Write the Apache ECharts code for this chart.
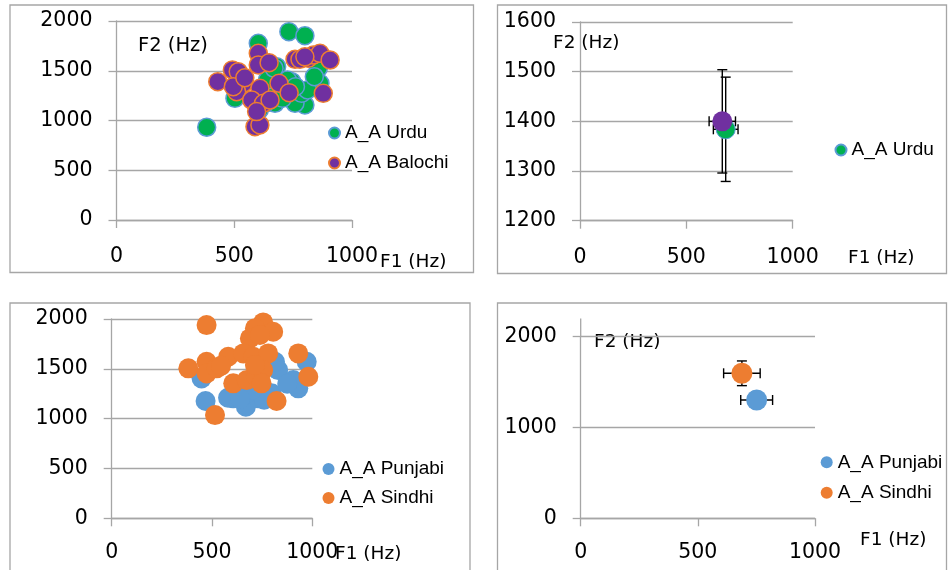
<!DOCTYPE html>
<html>
<head>
<meta charset="utf-8">
<script src="https://cdn.jsdelivr.net/npm/echarts@6/dist/echarts.min.js"></script>
<style>
html,body{margin:0;padding:0;background:#fff;}
#chart{width:948px;height:570px;}
</style>
</head>
<body>
<div id="chart"></div>
<script>
// ---- Data ----
const seriesNames = ['A_A Urdu', 'A_A Balochi', 'A_A Punjabi', 'A_A Sindhi'];

// Panel 1: individual tokens, Urdu vs Balochi
const urduF1 = [732, 800, 602, 383, 857, 864, 800, 758, 744, 680, 638, 517, 503, 673, 631, 786, 602, 705, 726, 641, 811, 840, 606, 669, 760];
const urduF2 = [1893, 1852, 1776, 932, 1525, 1374, 1156, 1173, 1390, 1541, 1357, 1273, 1223, 1173, 1173, 1273, 1139, 1223, 1407, 1407, 1307, 1440, 1106, 1525, 1340];
const balochiF1 = [430, 492, 517, 539, 510, 602, 602, 648, 609, 574, 624, 652, 690, 733, 588, 609, 595, 758, 779, 814, 836, 864, 907, 878, 800, 496, 545];
const balochiF2 = [1390, 1508, 1490, 1374, 1290, 1675, 1558, 1581, 1323, 1206, 1173, 1206, 1374, 1280, 938, 955, 1090, 1615, 1615, 1625, 1658, 1675, 1608, 1273, 1640, 1340, 1430];

// Panel 2: means with standard deviations
const meanUrdu = [685, 1384];
const sdUrdu = [58, 105];
const meanBalochi = [669, 1400];
const sdBalochi = [62, 104];

// Panel 3: individual tokens, Punjabi vs Sindhi
const punjabiF1 = [448, 468, 606, 669, 731, 797, 830, 814, 905, 930, 1013, 972, 875, 670, 580, 760, 700, 640];
const punjabiF2 = [1404, 1177, 1204, 1119, 1204, 1254, 1487, 1571, 1387, 1304, 1487, 1571, 1350, 1250, 1210, 1190, 1290, 1200];
const sindhiF1 = [473, 755, 714, 805, 689, 739, 382, 473, 473, 523, 581, 656, 706, 780, 930, 606, 673, 722, 755, 747, 714, 980, 822, 515, 545];
const sindhiF2 = [1939, 1966, 1906, 1872, 1805, 1839, 1505, 1571, 1454, 1505, 1621, 1655, 1621, 1655, 1655, 1354, 1387, 1420, 1487, 1354, 1538, 1420, 1177, 1036, 1530];

// Panel 4: means with standard deviations
const meanPunjabi = [751, 1303];
const sdPunjabi = [68, 90];
const meanSindhi = [688, 1597];
const sdSindhi = [78, 136];

// Axis ticks
const xTicks = [0, 500, 1000];
const yTicks1 = [0, 500, 1000, 1500, 2000];
const yTicks2 = [1200, 1300, 1400, 1500, 1600];
const yTicks4 = [0, 1000, 2000];
const yMax4 = 2200; // the vertical axis line of panel 4 runs up to here

// ---- Styles ----
const C = {
  green: '#00B050', purple: '#7030A0', blue: '#5B9BD5', orange: '#ED7D31',
  grid: '#A6A6A6', frame: '#A6A6A6', text: '#000'
};
const plain = v => String(v);
const tickFont = {fontFamily: 'DejaVu Sans', fontSize: 20.5, color: C.text, formatter: plain};
const nameFont = 'DejaVu Sans';
const legFont = {fontFamily: 'Liberation Sans', fontSize: 19, color: C.text};

function pairs(a, b) { return a.map((v, i) => [v, b[i]]); }

function xAxis(gi, labelMargin) {
  return {
    type: 'value', gridIndex: gi, min: xTicks[0], max: xTicks[xTicks.length - 1], interval: xTicks[1] - xTicks[0],
    axisLine: {show: true, onZero: false, lineStyle: {color: C.grid, width: 1.3}},
    axisTick: {show: true, inside: false, length: 8, lineStyle: {color: C.grid, width: 1.3}},
    axisLabel: Object.assign({margin: labelMargin}, tickFont),
    splitLine: {show: false}
  };
}
function yAxis(gi, ticks) {
  return {
    type: 'value', gridIndex: gi, min: ticks[0], max: ticks[ticks.length - 1], interval: ticks[1] - ticks[0],
    axisLine: {show: true, lineStyle: {color: C.grid, width: 1.3}},
    axisTick: {show: true, inside: false, length: 8, lineStyle: {color: C.grid, width: 1.3}},
    axisLabel: Object.assign({margin: 24}, tickFont),
    splitLine: {show: true, lineStyle: {color: C.grid, width: 1.3}}
  };
}

function errRender(params, api) {
  const x = api.value(0), y = api.value(1), ex = api.value(2), ey = api.value(3);
  const l = api.coord([x - ex, y]), r = api.coord([x + ex, y]);
  const t = api.coord([x, y + ey]), b = api.coord([x, y - ey]);
  const cap = 5;
  const st = {stroke: '#000', lineWidth: 1.4};
  return {
    type: 'group',
    children: [
      {type: 'line', shape: {x1: l[0], y1: l[1], x2: r[0], y2: r[1]}, style: st},
      {type: 'line', shape: {x1: l[0], y1: l[1] - cap, x2: l[0], y2: l[1] + cap}, style: st},
      {type: 'line', shape: {x1: r[0], y1: r[1] - cap, x2: r[0], y2: r[1] + cap}, style: st},
      {type: 'line', shape: {x1: t[0], y1: t[1], x2: b[0], y2: b[1]}, style: st},
      {type: 'line', shape: {x1: t[0] - cap, y1: t[1], x2: t[0] + cap, y2: t[1]}, style: st},
      {type: 'line', shape: {x1: b[0] - cap, y1: b[1], x2: b[0] + cap, y2: b[1]}, style: st}
    ]
  };
}
function errSeries(gi, mean, sd) {
  return {
    type: 'custom', xAxisIndex: gi, yAxisIndex: gi, z: 1, silent: true,
    renderItem: errRender, data: [[mean[0], mean[1], sd[0], sd[1]]]
  };
}
// Extension of panel 4's vertical axis line above its last tick (Excel axis runs to yMax4)
function axisStubSeries(gi, from, to) {
  return {
    type: 'custom', xAxisIndex: gi, yAxisIndex: gi, z: 0, silent: true, clip: false,
    renderItem: function (params, api) {
      const a = api.coord([api.value(0), api.value(1)]), b = api.coord([api.value(0), api.value(2)]);
      return {type: 'line', shape: {x1: a[0], y1: a[1], x2: b[0], y2: b[1]},
        style: {stroke: C.grid, lineWidth: 1.3}};
    },
    data: [[xTicks[0], from, to]]
  };
}

function frame(x, y, w, h) {
  return {type: 'rect', shape: {x: x, y: y, width: w, height: h}, style: {fill: 'none', stroke: C.frame, lineWidth: 1.3}, silent: true, z: -10};
}
function label(text, x, y, size) {
  return {type: 'text', x: x, y: y, style: {text: text, fontFamily: nameFont, fontSize: size, fill: C.text, verticalAlign: 'middle', align: 'left'}, silent: true};
}
function legend(names, left, top, icon, gap) {
  return {data: names, orient: 'vertical', left: left, top: top, padding: 0, itemWidth: icon, itemHeight: icon,
    itemGap: gap, icon: 'circle', textStyle: legFont, selectedMode: false};
}

const chart = echarts.init(document.getElementById('chart'), null, {renderer: 'canvas'});
const option = {
  animation: false,
  backgroundColor: '#fff',
  grid: [
    {left: 116.5, top: 21, width: 235.5, height: 199},
    {left: 580, top: 22, width: 212.7, height: 198.7},
    {left: 111.7, top: 319, width: 200.6, height: 199.3},
    {left: 580.7, top: 336.7, width: 234.3, height: 181.6}
  ],
  xAxis: [xAxis(0, 26), xAxis(1, 26), xAxis(2, 24), xAxis(3, 24)],
  yAxis: [yAxis(0, yTicks1), yAxis(1, yTicks2), yAxis(2, yTicks1), yAxis(3, yTicks4)],
  legend: [
    legend([seriesNames[0], seriesNames[1]], 328, 123.5, 11, 11),
    legend([seriesNames[0]], 834.5, 140.5, 11, 11),
    legend([seriesNames[2], seriesNames[3]], 322.5, 459.5, 12, 10),
    legend([seriesNames[2], seriesNames[3]], 820.7, 452.8, 12, 11.4)
  ],
  series: [
    // Panel 1
    {name: seriesNames[0], type: 'scatter', xAxisIndex: 0, yAxisIndex: 0, symbolSize: 18, z: 2,
      itemStyle: {color: C.green, borderColor: C.blue, borderWidth: 1.5, opacity: 1}, data: pairs(urduF1, urduF2)},
    {name: seriesNames[1], type: 'scatter', xAxisIndex: 0, yAxisIndex: 0, symbolSize: 18, z: 3,
      itemStyle: {color: C.purple, borderColor: C.orange, borderWidth: 1.5, opacity: 1}, data: pairs(balochiF1, balochiF2)},
    // Panel 2
    errSeries(1, meanUrdu, sdUrdu),
    errSeries(1, meanBalochi, sdBalochi),
    {name: seriesNames[0], type: 'scatter', xAxisIndex: 1, yAxisIndex: 1, symbolSize: 19, z: 2,
      itemStyle: {color: C.green, borderColor: C.blue, borderWidth: 1, opacity: 1}, data: [meanUrdu]},
    {name: seriesNames[1], type: 'scatter', xAxisIndex: 1, yAxisIndex: 1, symbolSize: 20, z: 3,
      itemStyle: {color: C.purple, opacity: 1}, data: [meanBalochi]},
    // Panel 3
    {name: seriesNames[2], type: 'scatter', xAxisIndex: 2, yAxisIndex: 2, symbolSize: 20, z: 2,
      itemStyle: {color: C.blue, opacity: 1}, data: pairs(punjabiF1, punjabiF2)},
    {name: seriesNames[3], type: 'scatter', xAxisIndex: 2, yAxisIndex: 2, symbolSize: 20, z: 3,
      itemStyle: {color: C.orange, opacity: 1}, data: pairs(sindhiF1, sindhiF2)},
    // Panel 4
    axisStubSeries(3, yTicks4[yTicks4.length - 1], yMax4),
    errSeries(3, meanPunjabi, sdPunjabi),
    errSeries(3, meanSindhi, sdSindhi),
    {name: seriesNames[2], type: 'scatter', xAxisIndex: 3, yAxisIndex: 3, symbolSize: 21, z: 2,
      itemStyle: {color: C.blue, opacity: 1}, data: [meanPunjabi]},
    {name: seriesNames[3], type: 'scatter', xAxisIndex: 3, yAxisIndex: 3, symbolSize: 21, z: 3,
      itemStyle: {color: C.orange, opacity: 1}, data: [meanSindhi]}
  ],
  graphic: [
    frame(10, 5, 463.5, 267.5),
    frame(497.5, 5, 449, 268.5),
    frame(10, 303, 460, 300),
    frame(497.5, 303, 449, 300),
    label('F2 (Hz)', 138, 45.5, 19.5),
    label('F1 (Hz)', 380, 262, 18.5),
    label('F2 (Hz)', 553, 43, 18.5),
    label('F1 (Hz)', 848, 258, 18.5),
    label('F1 (Hz)', 335, 554, 18.5),
    label('F2 (Hz)', 594, 342, 18.5),
    label('F1 (Hz)', 860, 540, 18.5)
  ]
};
chart.setOption(option);
</script>
</body>
</html>
